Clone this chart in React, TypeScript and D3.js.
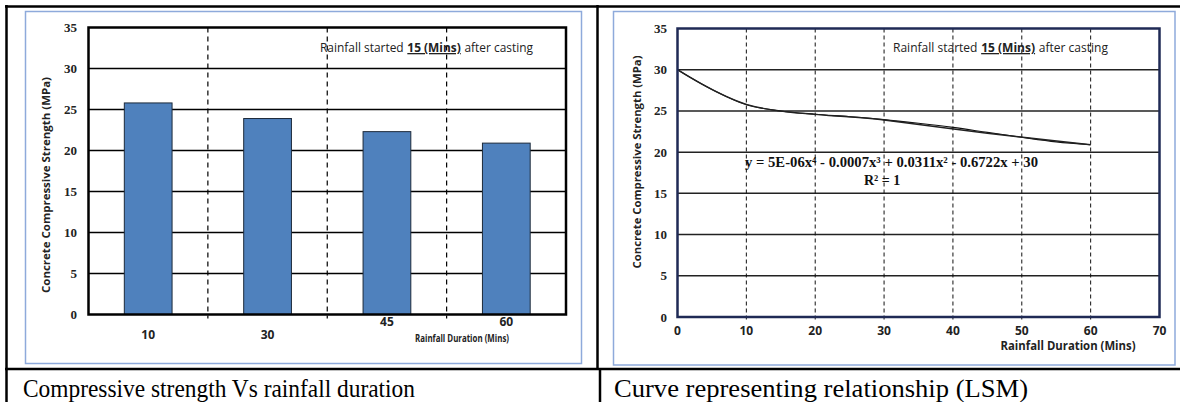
import React, { useEffect, useRef } from "react";
import * as d3 from "d3";

// bar chart data
const categories = ["10", "30", "45", "60"];
const strengthValues = [25.8, 23.9, 22.3, 20.9];
const strengthTicks = [0, 5, 10, 15, 20, 25, 30, 35];

// curve chart data
const durationTicks = [0, 10, 20, 30, 40, 50, 60, 70];
const measuredX = [0, 10, 30, 45, 60];
const measuredY = [30, 25.8, 23.9, 22.3, 20.9];
// trendline
const trendX = [0, 5, 10, 15, 20, 25, 30, 35, 40, 45, 50, 55, 60];
const trendY = [30, 27.6, 25.75, 25.0, 24.6, 24.3, 23.95, 23.5, 23.0, 22.4, 21.8, 21.25, 20.9];

const SERIF = "'Liberation Serif', 'Times New Roman', serif";
const SANS = "'Open Sans', 'Liberation Sans', sans-serif";

const App = () => {
  const svgRef = useRef<SVGSVGElement>(null);

  useEffect(() => {
    const svg = d3.select(svgRef.current);
    svg.selectAll("*").remove();

    svg.append("rect").attr("width", 1180).attr("height", 402).attr("fill", "#fff");

    // ---------- table lines ----------
    const table = svg.append("g").attr("stroke", "#000").attr("stroke-width", 2.5);
    table.append("line").attr("x1", 5).attr("x2", 1180).attr("y1", 6.5).attr("y2", 6.5);
    table.append("line").attr("x1", 6.5).attr("x2", 6.5).attr("y1", 5).attr("y2", 402);
    table.append("line").attr("x1", 5).attr("x2", 1180).attr("y1", 369).attr("y2", 369);
    table.append("line").attr("x1", 597.5).attr("x2", 597.5).attr("y1", 5).attr("y2", 369);
    table.append("line").attr("x1", 600).attr("x2", 600).attr("y1", 369).attr("y2", 402);

    // captions
    svg.append("text")
      .attr("x", 23).attr("y", 397)
      .attr("font-family", SERIF).attr("font-size", 25)
      .attr("textLength", 392).attr("lengthAdjust", "spacingAndGlyphs")
      .attr("fill", "#000")
      .text("Compressive strength Vs rainfall duration");
    svg.append("text")
      .attr("x", 614).attr("y", 397)
      .attr("font-family", SERIF).attr("font-size", 25)
      .attr("textLength", 414).attr("lengthAdjust", "spacingAndGlyphs")
      .attr("fill", "#000")
      .text("Curve representing relationship (LSM)");

    // annotation: three pieces, squeezed together to the width seen in the picture
    const note = (g, x, width) => {
      const pieces = [
        { text: "Rainfall started", bold: false },
        { text: "15 (Mins)", bold: true },
        { text: "after casting", bold: false },
      ];
      const gap = 4;
      const nodes = pieces.map((p) =>
        g.append("text")
          .attr("y", 52)
          .attr("font-family", SANS).attr("font-size", 13)
          .attr("font-weight", p.bold ? "bold" : "normal")
          .attr("text-decoration", p.bold ? "underline" : "none")
          .attr("fill", "#222")
          .text(p.text)
      );
      const widths = nodes.map((n) => n.node().getComputedTextLength() || 60);
      const k = width / (d3.sum(widths) + gap * (pieces.length - 1));
      let cx = x;
      nodes.forEach((n, i) => {
        n.attr("x", cx)
          .attr("textLength", widths[i] * k)
          .attr("lengthAdjust", "spacingAndGlyphs");
        cx += (widths[i] + gap) * k;
      });
    };

    const yTitle = (g, x, cy, len) => {
      g.append("text")
        .attr("transform", `translate(${x}, ${cy}) rotate(-90)`)
        .attr("text-anchor", "middle")
        .attr("dy", "0.35em")
        .attr("font-family", SANS).attr("font-size", 11).attr("font-weight", "bold")
        .attr("textLength", len).attr("lengthAdjust", "spacingAndGlyphs")
        .attr("fill", "#222")
        .text("Concrete Compressive Strength (MPa)");
    };

    // ---------- chart 1: bars ----------
    const p1 = { left: 88.5, right: 566, top: 27.5, bottom: 314.5 };
    const x1 = d3.scaleBand().domain(categories).range([p1.left, p1.right]).padding(0);
    const y1 = d3.scaleLinear().domain([0, 35]).range([p1.bottom, p1.top]);
    const g1 = svg.append("g");

    g1.append("rect")
      .attr("x", 25.5).attr("y", 11.5).attr("width", 556).attr("height", 352)
      .attr("fill", "#fff").attr("stroke", "#8eaadb").attr("stroke-width", 1.5);

    g1.selectAll(".hgrid")
      .data(strengthTicks.filter((t) => t > 0 && t < 35))
      .enter()
      .append("line")
      .attr("x1", p1.left).attr("x2", p1.right)
      .attr("y1", (d) => y1(d)).attr("y2", (d) => y1(d))
      .attr("stroke", "#000").attr("stroke-width", 1.6);

    g1.selectAll(".vgrid")
      .data(categories.slice(1))
      .enter()
      .append("line")
      .attr("x1", (d) => x1(d)).attr("x2", (d) => x1(d))
      .attr("y1", p1.top).attr("y2", p1.bottom + 4)
      .attr("stroke", "#000").attr("stroke-width", 1.2)
      .attr("stroke-dasharray", "5,4");

    const bw = x1.bandwidth();
    g1.selectAll(".bar")
      .data(strengthValues)
      .enter()
      .append("rect")
      .attr("x", (d, i) => x1(categories[i]) + bw * 0.3)
      .attr("width", bw * 0.4)
      .attr("y", (d) => y1(d))
      .attr("height", (d) => y1(0) - y1(d))
      .attr("fill", "#4f81bd")
      .attr("stroke", "#1d2a3a").attr("stroke-width", 1);

    g1.append("rect")
      .attr("x", p1.left).attr("y", p1.top)
      .attr("width", p1.right - p1.left).attr("height", p1.bottom - p1.top)
      .attr("fill", "none").attr("stroke", "#000").attr("stroke-width", 2.5);

    g1.selectAll(".ytick")
      .data(strengthTicks)
      .enter()
      .append("text")
      .attr("x", 77).attr("y", (d) => y1(d))
      .attr("dy", "0.35em").attr("text-anchor", "end")
      .attr("font-family", SERIF).attr("font-size", 13).attr("font-weight", "bold")
      .attr("fill", "#222")
      .text((d) => d);

    // the last two labels sit higher, above the axis title
    g1.selectAll(".xtick")
      .data(categories)
      .enter()
      .append("text")
      .attr("x", (d) => x1(d) + bw / 2)
      .attr("y", (d, i) => (i < 2 ? 339 : 326))
      .attr("text-anchor", "middle")
      .attr("font-family", SANS).attr("font-size", 12).attr("font-weight", "bold")
      .attr("fill", "#222")
      .text((d) => d);

    g1.append("text")
      .attr("x", 462).attr("y", 342)
      .attr("text-anchor", "middle")
      .attr("font-family", SANS).attr("font-size", 11).attr("font-weight", "bold")
      .attr("textLength", 94).attr("lengthAdjust", "spacingAndGlyphs")
      .attr("fill", "#222")
      .text("Rainfall Duration (Mins)");

    yTitle(g1, 46, 185, 216);
    note(g1, 320, 213);

    // ---------- chart 2: curve ----------
    const p2 = { left: 677.5, right: 1159.5, top: 28.5, bottom: 317 };
    const x2 = d3.scaleLinear().domain([0, 70]).range([p2.left, p2.right]);
    const y2 = d3.scaleLinear().domain([0, 35]).range([p2.bottom, p2.top]);
    const g2 = svg.append("g");

    g2.append("rect")
      .attr("x", 613.5).attr("y", 11.5).attr("width", 561.5).attr("height", 353.5)
      .attr("fill", "#fff").attr("stroke", "#8eaadb").attr("stroke-width", 1.5);

    g2.selectAll(".hgrid")
      .data(strengthTicks.filter((t) => t > 0 && t < 35))
      .enter()
      .append("line")
      .attr("x1", p2.left).attr("x2", p2.right)
      .attr("y1", (d) => y2(d)).attr("y2", (d) => y2(d))
      .attr("stroke", "#222").attr("stroke-width", 1.5);

    g2.selectAll(".vgrid")
      .data(durationTicks.filter((t) => t > 0 && t < 70))
      .enter()
      .append("line")
      .attr("x1", (d) => x2(d)).attr("x2", (d) => x2(d))
      .attr("y1", p2.top).attr("y2", p2.bottom + 3)
      .attr("stroke", "#111").attr("stroke-width", 1)
      .attr("stroke-dasharray", "4,3");

    const lineGen = d3.line()
      .x((d) => x2(d[0]))
      .y((d) => y2(d[1]));

    g2.append("path")
      .datum(trendX.map((v, i) => [v, trendY[i]]))
      .attr("d", lineGen.curve(d3.curveMonotoneX))
      .attr("fill", "none").attr("stroke", "#111").attr("stroke-width", 1.1);

    g2.append("path")
      .datum(measuredX.map((v, i) => [v, measuredY[i]]))
      .attr("d", lineGen.curve(d3.curveCatmullRom.alpha(0.5)))
      .attr("fill", "none").attr("stroke", "#222").attr("stroke-width", 1.4);

    g2.append("rect")
      .attr("x", p2.left).attr("y", p2.top)
      .attr("width", p2.right - p2.left).attr("height", p2.bottom - p2.top)
      .attr("fill", "none").attr("stroke", "#1f2a55").attr("stroke-width", 2.5);

    g2.selectAll(".ytick")
      .data(strengthTicks)
      .enter()
      .append("text")
      .attr("x", 667).attr("y", (d) => y2(d))
      .attr("dy", "0.35em").attr("text-anchor", "end")
      .attr("font-family", SERIF).attr("font-size", 13).attr("font-weight", "bold")
      .attr("fill", "#222")
      .text((d) => d);

    g2.selectAll(".xtick")
      .data(durationTicks)
      .enter()
      .append("text")
      .attr("x", (d) => x2(d)).attr("y", 335)
      .attr("text-anchor", "middle")
      .attr("font-family", SANS).attr("font-size", 12).attr("font-weight", "bold")
      .attr("fill", "#222")
      .text((d) => d);

    g2.append("text")
      .attr("x", 1068).attr("y", 350)
      .attr("text-anchor", "middle")
      .attr("font-family", SANS).attr("font-size", 12).attr("font-weight", "bold")
      .attr("textLength", 135).attr("lengthAdjust", "spacingAndGlyphs")
      .attr("fill", "#222")
      .text("Rainfall Duration (Mins)");

    yTitle(g2, 637, 162, 213);
    note(g2, 893, 215);

    g2.append("text")
      .attr("x", 745).attr("y", 167)
      .attr("font-family", SERIF).attr("font-size", 14).attr("font-weight", "bold")
      .attr("textLength", 293).attr("lengthAdjust", "spacingAndGlyphs")
      .attr("fill", "#111")
      .text("y = 5E-06x\u2074 - 0.0007x\u00b3 + 0.0311x\u00b2 - 0.6722x + 30");
    g2.append("text")
      .attr("x", 864).attr("y", 185)
      .attr("font-family", SERIF).attr("font-size", 14).attr("font-weight", "bold")
      .attr("fill", "#111")
      .text("R\u00b2 = 1");
  }, []);

  return (
    <svg
      ref={svgRef}
      width={1180}
      height={402}
      style={{ position: "absolute", left: 0, top: 0, display: "block" }}
    ></svg>
  );
};

export default App;
